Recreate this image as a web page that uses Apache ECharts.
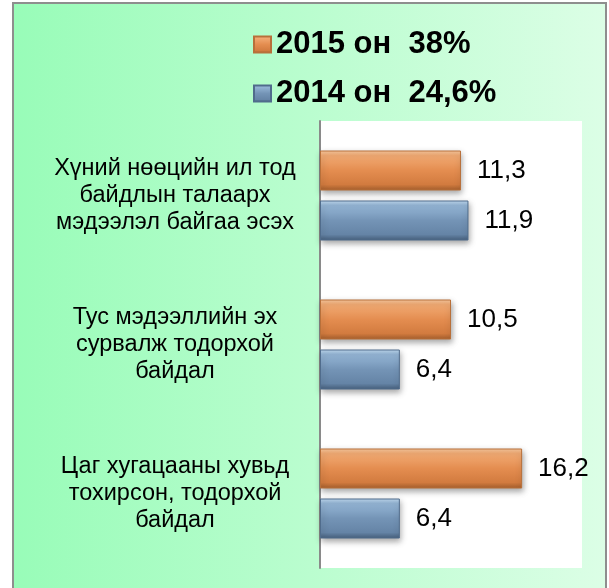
<!DOCTYPE html>
<html>
<head>
<meta charset="utf-8">
<style>
html,body{margin:0;padding:0;background:#fff;}
#c{width:609px;height:588px;}
</style>
<script src="https://cdn.jsdelivr.net/npm/echarts@6/dist/echarts.min.js"></script>
</head>
<body>
<div id="c"></div>
<script>
var categories = [
  'Хүний нөөцийн ил тод\nбайдлын талаарх\nмэдээлэл байгаа эсэх',
  'Тус мэдээллийн эх\nсурвалж тодорхой\nбайдал',
  'Цаг хугацааны хувьд\nтохирсон, тодорхой\nбайдал'
];
var seriesNames = ['2015 он  38%', '2014 он  24,6%'];
var values2015 = [11.3, 10.5, 16.2];
var values2014 = [11.9, 6.4, 6.4];

var FONT = '"Liberation Sans", Arial, sans-serif';

function grad(stops) {
  return new echarts.graphic.LinearGradient(0, 0, 0, 1, stops);
}
var orangeFill = grad([
  {offset: 0, color: '#f9caa0'},
  {offset: 0.12, color: '#f2ab74'},
  {offset: 0.5, color: '#e48d50'},
  {offset: 0.85, color: '#d27b3f'},
  {offset: 1, color: '#a45e2c'}
]);
var blueFill = grad([
  {offset: 0, color: '#c2dcf2'},
  {offset: 0.12, color: '#95b6d6'},
  {offset: 0.5, color: '#7494b6'},
  {offset: 0.85, color: '#6584a6'},
  {offset: 1, color: '#465f7c'}
]);

var chart = echarts.init(document.getElementById('c'), null, {renderer: 'canvas'});

function labelFmt(p) { return String(p.value).replace('.', ','); }

var option = {
  animation: false,
  graphic: [{
    type: 'rect',
    z: -10,
    silent: true,
    shape: {x: 13, y: 3, width: 593, height: 600},
    style: {
      fill: new echarts.graphic.LinearGradient(0, 0, 1, 0, [
        {offset: 0, color: '#98fcb8'},
        {offset: 1, color: '#dcfee6'}
      ]),
      stroke: '#8e8e8e',
      lineWidth: 2
    }
  }],
  legend: {
    orient: 'vertical',
    left: 248,
    top: 24,
    itemWidth: 17,
    itemHeight: 16,
    itemGap: 18,
    icon: 'rect',
    data: seriesNames,
    textStyle: {
      fontFamily: FONT,
      fontSize: 31,
      fontWeight: 'bold',
      color: '#000'
    }
  },
  grid: {
    left: 320,
    right: 27,
    top: 121,
    bottom: 20,
    show: true,
    backgroundColor: '#ffffff',
    borderWidth: 0,
    containLabel: false
  },
  xAxis: {
    type: 'value',
    min: 0,
    max: 21,
    show: false
  },
  yAxis: {
    type: 'category',
    inverse: true,
    data: categories,
    axisLine: {show: true, lineStyle: {color: '#8a8a8a', width: 2}},
    axisTick: {show: false},
    axisLabel: {
      align: 'center',
      margin: 145,
      fontFamily: FONT,
      fontSize: 23.5,
      lineHeight: 27,
      color: '#000'
    }
  },
  series: [{
    name: seriesNames[0],
    type: 'bar',
    data: values2015,
    barWidth: 40,
    barGap: '25%',
    itemStyle: {
      color: orangeFill,
      borderColor: '#b8703a',
      borderWidth: 1,
      shadowColor: 'rgba(0,0,0,0.35)',
      shadowBlur: 6,
      shadowOffsetY: 3,
      shadowOffsetX: 1
    },
    label: {
      show: true,
      position: 'right',
      distance: 16,
      fontFamily: FONT,
      fontSize: 26,
      color: '#000',
      formatter: labelFmt
    }
  }, {
    name: seriesNames[1],
    type: 'bar',
    data: values2014,
    barWidth: 40,
    barGap: '25%',
    itemStyle: {
      color: blueFill,
      borderColor: '#506c8c',
      borderWidth: 1,
      shadowColor: 'rgba(0,0,0,0.35)',
      shadowBlur: 6,
      shadowOffsetY: 3,
      shadowOffsetX: 1
    },
    label: {
      show: true,
      position: 'right',
      distance: 16,
      fontFamily: FONT,
      fontSize: 26,
      color: '#000',
      formatter: labelFmt
    }
  }]
};
chart.setOption(option);
</script>
</body>
</html>
